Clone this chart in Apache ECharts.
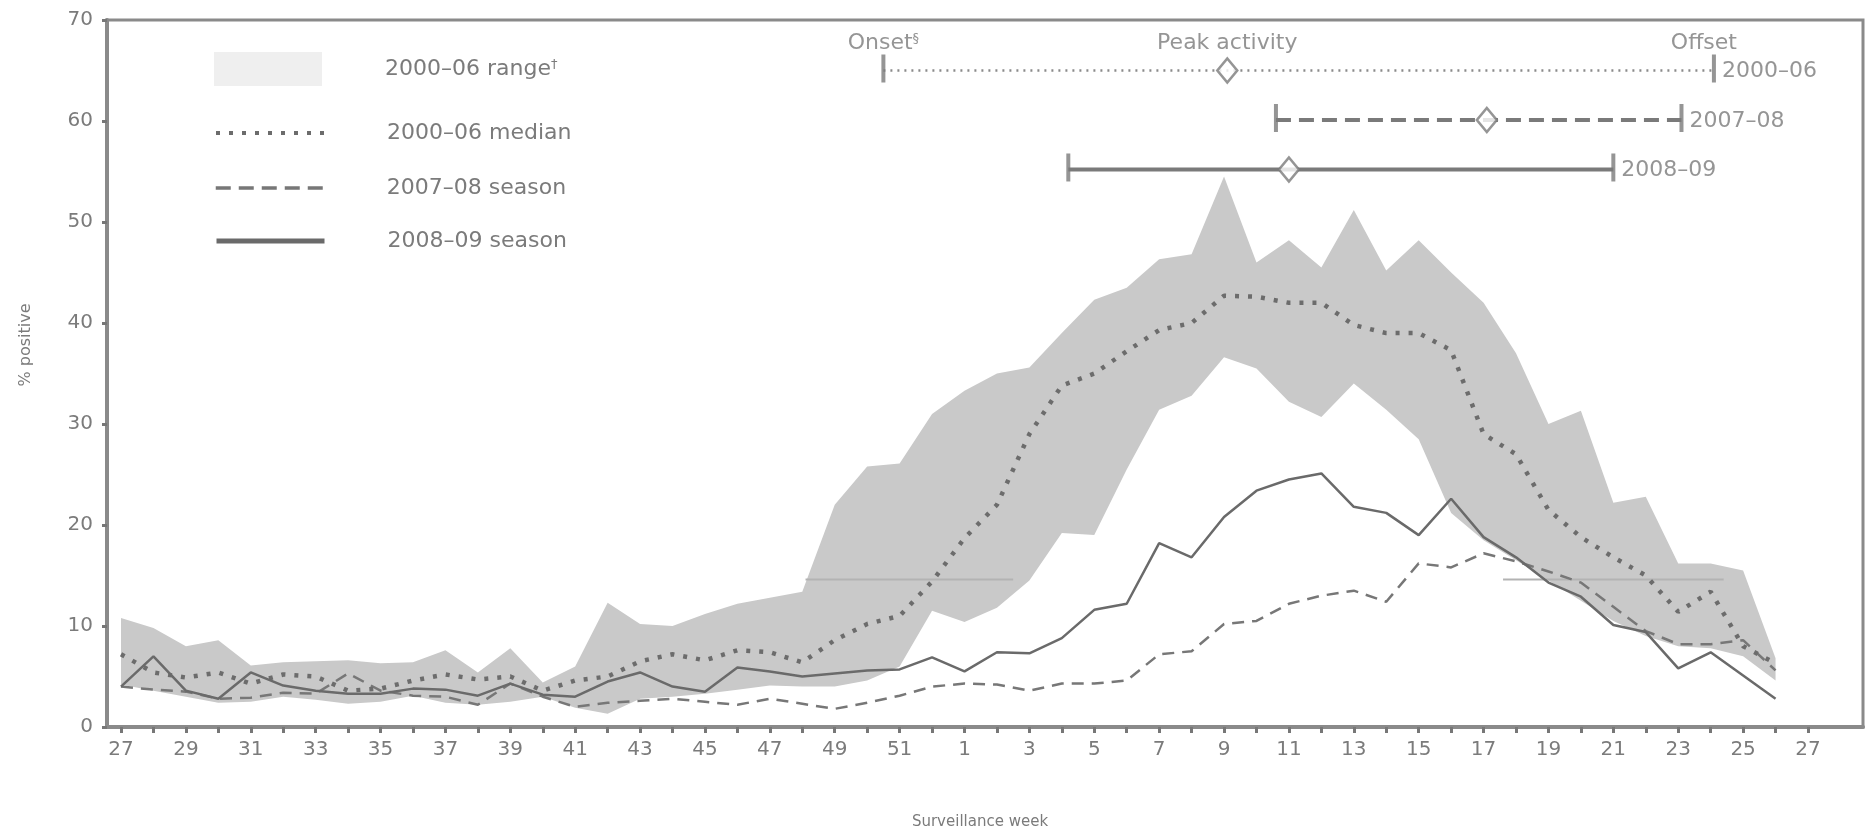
<!DOCTYPE html>
<html>
<head>
<meta charset="utf-8">
<title>Surveillance week — % positive</title>
<script src="https://cdn.jsdelivr.net/npm/echarts@6/dist/echarts.min.js"></script>
<style>
  html, body { margin: 0; padding: 0; background: #ffffff; }
  #chart { width: 1868px; height: 836px; }
</style>
</head>
<body>
<div id="chart"></div>
<script>
// Surveillance weeks, July to the following July (index 0 = week 27)
const weekLabels = [27, 28, 29, 30, 31, 32, 33, 34, 35, 36, 37, 38, 39, 40, 41, 42, 43, 44, 45, 46, 47, 48, 49, 50, 51, 52,
  1, 2, 3, 4, 5, 6, 7, 8, 9, 10, 11, 12, 13, 14, 15, 16, 17, 18, 19, 20, 21, 22, 23, 24, 25, 26, 27];

// 2000–06 range (weekly min / max % positive)
const rangeUpper = [10.8, 9.8, 8.0, 8.6, 6.1, 6.4, 6.5, 6.6, 6.3, 6.4, 7.6, 5.4, 7.8, 4.4, 6.0, 12.3, 10.2, 10.0, 11.2, 12.2,
  12.8, 13.4, 22.0, 25.8, 26.1, 31.0, 33.3, 35.0, 35.6, 39.0, 42.3, 43.5, 46.3, 46.8, 54.5, 46.0, 48.2, 45.5, 51.2, 45.2,
  48.2, 45.0, 42.0, 37.0, 30.0, 31.3, 22.2, 22.8, 16.2, 16.2, 15.5, 6.8];
const rangeLower = [4.2, 3.6, 3.0, 2.4, 2.5, 3.0, 2.7, 2.3, 2.5, 3.1, 2.4, 2.2, 2.5, 3.0, 1.9, 1.3, 2.8, 3.0, 3.3, 3.7,
  4.1, 4.0, 4.0, 4.6, 6.0, 11.5, 10.4, 11.8, 14.5, 19.2, 19.0, 25.5, 31.4, 32.8, 36.6, 35.5, 32.2, 30.7, 34.0, 31.4,
  28.5, 21.2, 18.5, 16.5, 14.5, 12.5, 10.5, 9.0, 8.0, 7.8, 7.0, 4.6];

// 2000–06 median
const median0006 = [7.2, 5.4, 4.9, 5.4, 4.3, 5.2, 5.0, 3.6, 3.8, 4.6, 5.2, 4.7, 5.0, 3.6, 4.6, 5.0, 6.5, 7.2, 6.6, 7.6,
  7.4, 6.4, 8.6, 10.2, 11.0, 14.4, 18.7, 22.0, 29.0, 33.8, 35.0, 37.2, 39.3, 40.0, 42.7, 42.6, 42.0, 42.0, 39.8, 39.0,
  39.0, 37.3, 29.0, 27.0, 21.5, 18.8, 16.8, 15.0, 11.4, 13.4, 8.0, 6.3];

// 2007–08 season
const season0708 = [4.0, 3.7, 3.5, 2.8, 2.9, 3.4, 3.3, 5.3, 3.6, 3.1, 3.0, 2.2, 4.3, 3.0, 2.0, 2.4, 2.6, 2.8, 2.5, 2.2,
  2.8, 2.3, 1.8, 2.4, 3.1, 4.0, 4.3, 4.2, 3.6, 4.3, 4.3, 4.6, 7.2, 7.5, 10.2, 10.5, 12.2, 13.0, 13.5, 12.4,
  16.2, 15.8, 17.2, 16.4, 15.4, 14.3, 11.9, 9.5, 8.2, 8.2, 8.6, 5.6];

// 2008–09 season
const season0809 = [4.0, 7.0, 3.6, 2.8, 5.4, 4.1, 3.6, 3.3, 3.3, 3.8, 3.7, 3.1, 4.3, 3.2, 3.0, 4.5, 5.4, 4.0, 3.5, 5.9,
  5.5, 5.0, 5.3, 5.6, 5.7, 6.9, 5.5, 7.4, 7.3, 8.8, 11.6, 12.2, 18.2, 16.8, 20.8, 23.4, 24.5, 25.1, 21.8, 21.2,
  19.0, 22.6, 18.8, 16.8, 14.3, 12.9, 10.1, 9.4, 5.8, 7.4, 5.1, 2.8];

// Faint reference segments inside the range band: [start index, end index]
const referenceLevel = 14.6;
const referenceSpans = [[21.1, 27.5], [42.6, 49.4]];

// Onset / peak / offset summary bars (positions on the week index scale)
const seasonLabels = ['2000–06', '2007–08', '2008–09'];
const summaryRows = [65.0, 60.1, 55.2];
const onsetPos = [23.5, 35.6, 29.2];
const peakPos = [34.1, 42.1, 36.0];
const offsetPos = [49.1, 48.1, 46.0];

const FONT = '"DejaVu Sans", Verdana, sans-serif';
const TEXT = '#7b7b7b';
const FRAME = '#8a8a8a';
const MARK = '#7a7a7a';
const BAND = '#c9c9c9';

const toPoints = arr => arr.map((v, i) => [i, v]);

const supRich = {
  t: { fontSize: 22, color: TEXT, fontFamily: FONT },
  sup: { fontSize: 13, color: TEXT, fontFamily: FONT, verticalAlign: 'top' }
};

const series = [];

// range band drawn as one polygon: upper edge forward, lower edge back
series.push({
  name: '2000–06 range', type: 'custom', xAxisIndex: 1, yAxisIndex: 1,
  data: rangeUpper.map((v, i) => [i, v, rangeLower[i]]),
  encode: { x: 0, y: [1, 2] },
  itemStyle: { color: BAND }, silent: true, z: 1,
  renderItem: (params, api) => {
    if (params.dataIndex !== 0) return null;
    const pts = [];
    for (let i = 0; i < rangeUpper.length; i++) pts.push(api.coord([i, rangeUpper[i]]));
    for (let i = rangeLower.length - 1; i >= 0; i--) pts.push(api.coord([i, rangeLower[i]]));
    return { type: 'polygon', shape: { points: pts }, style: { fill: BAND } };
  }
});

referenceSpans.forEach((span, k) => {
  series.push({
    name: 'reference' + k, type: 'line', xAxisIndex: 1, yAxisIndex: 1,
    data: [[span[0], referenceLevel], [span[1], referenceLevel]],
    symbol: 'none', silent: true,
    lineStyle: { color: '#b3b3b3', width: 2 }, z: 2
  });
});

series.push({
  name: '2007–08 season', type: 'line', xAxisIndex: 1, yAxisIndex: 1,
  data: toPoints(season0708), symbol: 'none', silent: true,
  lineStyle: { color: '#777777', width: 2.5, type: [12, 8] }, itemStyle: { color: '#777777' }, z: 3
});
series.push({
  name: '2000–06 median', type: 'line', xAxisIndex: 1, yAxisIndex: 1,
  data: toPoints(median0006), symbol: 'none', silent: true,
  lineStyle: { color: '#6c6c6c', width: 4.5, type: [4, 9], cap: 'butt' }, itemStyle: { color: '#6c6c6c' }, z: 4
});
series.push({
  name: '2008–09 season', type: 'line', xAxisIndex: 1, yAxisIndex: 1,
  data: toPoints(season0809), symbol: 'none', silent: true,
  lineStyle: { color: '#6a6a6a', width: 2.5 }, itemStyle: { color: '#6a6a6a' }, z: 5
});

// summary bars
const barStyles = [
  { color: '#8a8a8a', width: 2.5, type: [2, 5] },
  { color: MARK, width: 4, type: [15, 8] },
  { color: MARK, width: 4, type: 'solid' }
];
seasonLabels.forEach((s, i) => {
  series.push({
    name: 'bar ' + s, type: 'line', xAxisIndex: 1, yAxisIndex: 1,
    data: [[onsetPos[i], summaryRows[i]], [offsetPos[i], summaryRows[i]]],
    symbol: 'none', silent: true, lineStyle: barStyles[i], z: 6
  });
});

// onset / offset end ticks with season labels
const tickData = [];
seasonLabels.forEach((s, i) => {
  tickData.push({ value: [onsetPos[i], summaryRows[i]] });
  tickData.push({
    value: [offsetPos[i], summaryRows[i]],
    label: {
      show: true, position: 'right', distance: 6, offset: [0, 3], formatter: () => s,
      fontSize: 22, color: TEXT, fontFamily: FONT
    }
  });
});
series.push({
  name: 'ends', type: 'scatter', xAxisIndex: 1, yAxisIndex: 1,
  data: tickData, symbol: 'rect', symbolSize: [4, 28], symbolOffset: [0, -2],
  itemStyle: { color: MARK }, silent: true, z: 7
});

// peak diamonds
series.push({
  name: 'peaks', type: 'scatter', xAxisIndex: 1, yAxisIndex: 1,
  data: peakPos.map((x, i) => [x, summaryRows[i]]),
  symbol: 'diamond', symbolSize: [20, 24],
  itemStyle: { color: '#ffffff', borderColor: MARK, borderWidth: 2.5 }, silent: true, z: 8
});

// column headers above the 2000–06 bar
const headerText = [
  () => '{t|Onset}{sup|§}',
  () => '{t|Peak activity}',
  () => '{t|Offset}'
];
const headerPos = [onsetPos[0], peakPos[0], offsetPos[0]];
const headerShift = [[0, 0], [0, 0], [-10, 0]];
series.push({
  name: 'headers', type: 'scatter', xAxisIndex: 1, yAxisIndex: 1,
  data: headerPos.map((x, k) => ({
    value: [x, summaryRows[0]],
    label: {
      show: true, position: 'top', distance: 0, offset: headerShift[k],
      formatter: headerText[k], rich: supRich, color: TEXT
    }
  })),
  symbol: 'rect', symbolSize: [4, 28], symbolOffset: [0, -2],
  itemStyle: { color: 'rgba(0,0,0,0)' }, silent: true, z: 9
});

// one legend block per row
const legendRows = [
  { name: '2000–06 range', center: 69, icon: 'rect', h: 34, extra: { itemStyle: { color: '#efefef', opacity: 1 } }, sup: true },
  { name: '2000–06 median', center: 134, h: 24, extra: { lineStyle: { color: '#6c6c6c', width: 4, type: [4, 9] }, itemStyle: { opacity: 0 } } },
  { name: '2007–08 season', center: 189, h: 24, extra: { lineStyle: { color: '#777777', width: 3.5, type: [15, 8] }, itemStyle: { opacity: 0 } } },
  { name: '2008–09 season', center: 242, h: 24, extra: { lineStyle: { color: '#6a6a6a', width: 5, type: 'solid' }, itemStyle: { opacity: 0 } } }
];
const legends = legendRows.map(r => {
  const item = Object.assign({ name: r.name }, r.extra);
  if (r.icon) item.icon = r.icon;
  return {
    left: 214, top: r.center - r.h / 2, padding: 0, orient: 'vertical',
    itemWidth: 108, itemHeight: r.h, selectedMode: false,
    data: [item],
    formatter: name => r.sup ? '{n|' + name + '}{sup|†}' : '{n|' + name + '}',
    textStyle: {
      padding: [0, 0, 0, 58],
      rich: {
        n: { fontSize: 22, color: TEXT, fontFamily: FONT },
        sup: { fontSize: 13, color: TEXT, fontFamily: FONT, verticalAlign: 'top' }
      }
    }
  };
});

const option = {
  animation: false,
  backgroundColor: '#ffffff',
  grid: [
    { left: 107, right: 5, top: 20, bottom: 109, show: true, borderColor: FRAME, borderWidth: 3,
      backgroundColor: 'transparent', containLabel: false, outerBoundsMode: 'none' },
    { left: 121, right: 60, top: 20, bottom: 109, containLabel: false, outerBoundsMode: 'none' }
  ],
  xAxis: [
    { gridIndex: 0, type: 'value', min: 0, max: 1,
      axisLine: { show: true, onZero: false, lineStyle: { color: FRAME, width: 4 } },
      axisTick: { show: false }, axisLabel: { show: false }, splitLine: { show: false } },
    { gridIndex: 1, type: 'value', min: 0, max: 52, interval: 1,
      axisLine: { show: false, onZero: false },
      axisTick: { show: true, length: 6, lineStyle: { color: '#777777', width: 3 } },
      axisLabel: {
        formatter: v => { const i = Math.round(v); return i % 2 === 0 ? String(weekLabels[i]) : ''; },
        fontSize: 20, color: TEXT, fontFamily: FONT, margin: 13
      },
      splitLine: { show: false } }
  ],
  yAxis: [
    { gridIndex: 0, type: 'value', min: 0, max: 70, interval: 10,
      axisLine: { show: true, lineStyle: { color: FRAME, width: 4 } },
      axisTick: { show: true, length: 5, lineStyle: { color: '#777777', width: 3 } },
      axisLabel: { fontSize: 20, color: TEXT, fontFamily: FONT, margin: 14 },
      splitLine: { show: false } },
    { gridIndex: 1, type: 'value', min: 0, max: 70, show: false, splitLine: { show: false } }
  ],
  legend: legends,
  graphic: [
    { type: 'text', x: 26, y: 345, rotation: Math.PI / 2,
      style: { text: '% positive', fill: TEXT, fontSize: 16, fontFamily: FONT,
        align: 'center', verticalAlign: 'middle', textAlign: 'center', textVerticalAlign: 'middle' } },
    { type: 'text', x: 980, y: 822,
      style: { text: 'Surveillance week', fill: TEXT, fontSize: 15, fontFamily: FONT,
        align: 'center', verticalAlign: 'middle', textAlign: 'center', textVerticalAlign: 'middle' } }
  ],
  series: series
};

const chart = echarts.init(document.getElementById('chart'), null, { renderer: 'canvas' });
chart.setOption(option);
</script>
</body>
</html>
